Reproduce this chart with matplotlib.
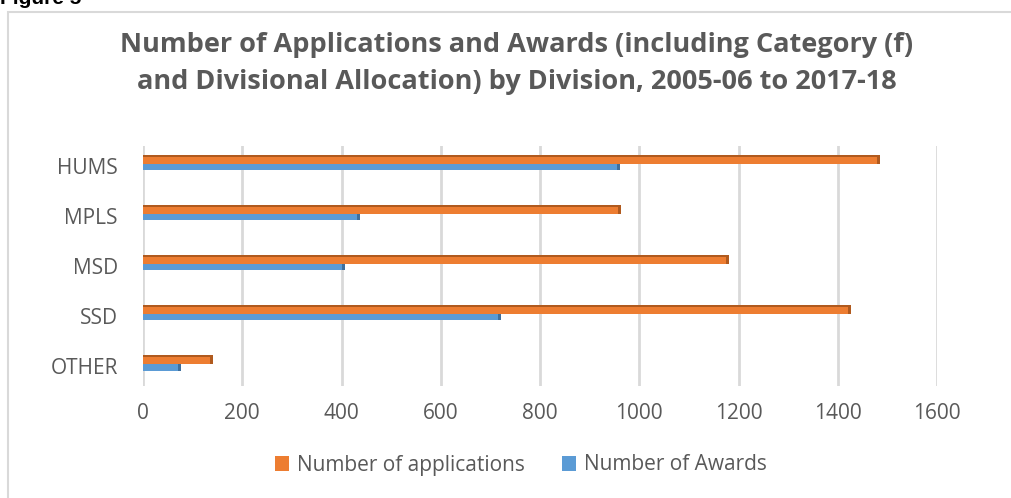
import numpy as np
import matplotlib.pyplot as plt
from matplotlib.patches import Rectangle

divisions = ['HUMS', 'MPLS', 'MSD', 'SSD', 'OTHER']
applications = [1485, 964, 1181, 1427, 141]
awards = [962, 437, 407, 722, 77]

orange = '#ED7D31'
blue = '#5B9BD5'
grey = '#595959'

plt.rcParams['font.family'] = ['Open Sans', 'DejaVu Sans']

fig = plt.figure(figsize=(10.11, 4.98), dpi=100)

# outer chart frame and the caption, cut off at the top as in the source
fig.patches.append(Rectangle((8 / 1011, -0.01), 1.02, 1 - 12 / 498 + 0.01,
                             transform=fig.transFigure, fill=False,
                             edgecolor='#D9D9D9', linewidth=1.5))
fig.text(0.0, 1 + 1 / 498, 'Figure 5', fontsize=15, fontweight='bold',
         family='Liberation Sans', va='center', ha='left')

fig.text(0.511, 1 - 45 / 498, 'Number of Applications and Awards (including Category (f)',
         fontsize=19.5, fontweight='bold', color=grey, ha='center', va='center')
fig.text(0.511, 1 - 82 / 498, 'and Divisional Allocation) by Division, 2005-06 to 2017-18',
         fontsize=19.5, fontweight='bold', color=grey, ha='center', va='center')

ax = fig.add_axes([143 / 1011, 1 - 386 / 498, (937 - 143) / 1011, (386 - 146) / 498])

y = np.arange(len(divisions))
app = np.array(applications)
awd = np.array(awards)
# pseudo 3D: dark back/side first, then the faces
ax.barh(y - 0.13, app, height=0.18, color='#B05A1E', zorder=2)
ax.barh(y + 0.025, awd, height=0.13, color='#3F6F9C', zorder=2)
ax.barh(y + 0.025, awd - 6, height=0.13, color=blue, zorder=3, label='Number of Awards')
ax.barh(y - 0.11, app - 6, height=0.14, color=orange, zorder=4,
        label='Number of applications')

ax.set_xlim(0, 1600)
ax.set_ylim(4.4, -0.4)
ax.set_xticks(np.arange(0, 1601, 200))
ax.set_yticks(y)
ax.set_yticklabels(divisions)
ax.grid(axis='x', color='#D9D9D9', linewidth=2)
ax.set_axisbelow(True)
for s in ax.spines.values():
    s.set_visible(False)
ax.tick_params(length=0, labelsize=15, colors=grey)
ax.tick_params(axis='y', pad=18)
ax.tick_params(axis='x', pad=12)

handles, labels = ax.get_legend_handles_labels()
handles, labels = handles[::-1], labels[::-1]
fig.legend(handles, labels, loc='center', bbox_to_anchor=(0.515, 1 - 465 / 498),
           ncol=2, frameon=False, fontsize=15, labelcolor=grey,
           handlelength=0.7, handleheight=0.7, handletextpad=0.35, columnspacing=1.8)

fig.savefig('out.png', dpi=100)
